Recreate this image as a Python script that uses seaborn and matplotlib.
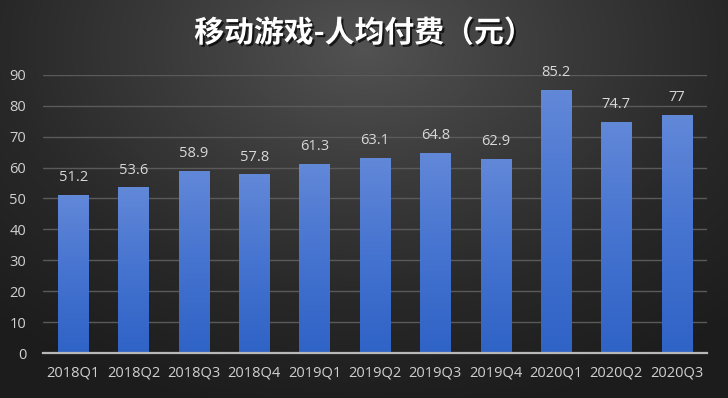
import numpy as np
import pandas as pd
import seaborn as sns
import matplotlib.pyplot as plt
import matplotlib.patheffects as pe
from matplotlib.colors import LinearSegmentedColormap

quarters = ['2018Q1', '2018Q2', '2018Q3', '2018Q4', '2019Q1', '2019Q2',
            '2019Q3', '2019Q4', '2020Q1', '2020Q2', '2020Q3']
pay_per_user = [51.2, 53.6, 58.9, 57.8, 61.3, 63.1, 64.8, 62.9, 85.2, 74.7, 77]
title = '移动游戏-人均付费（元）'

sns.set_theme(style='dark')
plt.rcParams['font.family'] = ['Open Sans', 'Noto Sans CJK SC', 'DejaVu Sans']

fig = plt.figure(figsize=(7.28, 3.98), dpi=100)

# radial dark background
bg = fig.add_axes([0, 0, 1, 1], zorder=-10)
yy, xx = np.mgrid[0:1:398j, 0:1:728j]
r = np.sqrt(((xx - 0.5) / 0.75) ** 2 + ((yy - 0.12) / 0.95) ** 2)
bg_cmap = LinearSegmentedColormap.from_list('bg', ['#525252', '#3c3c3c', '#282828', '#1c1c1c'])
bg.imshow(r, cmap=bg_cmap, aspect='auto', extent=[0, 1, 1, 0], vmin=0, vmax=1.0)
bg.set_axis_off()

ax = fig.add_axes([0.059, 0.113, 0.912, 0.699])
ax.patch.set_alpha(0)
df = pd.DataFrame({'quarter': quarters, 'value': pay_per_user})
sns.barplot(data=df, x='quarter', y='value', ax=ax, color='#3a68c8',
            width=0.5, saturation=1, linewidth=0, edgecolor='none', zorder=3)

# vertical gradient on each bar
bar_cmap = LinearSegmentedColormap.from_list('bar', ['#2f63c6', '#4573d0', '#6288d8'])
grad = np.linspace(0, 1, 256).reshape(-1, 1)
for patch in ax.patches:
    x0, y0 = patch.get_x(), patch.get_y()
    w, h = patch.get_width(), patch.get_height()
    im = ax.imshow(grad, cmap=bar_cmap, aspect='auto', origin='lower',
                   extent=[x0, x0 + w, y0, y0 + h], zorder=4)
    im.set_clip_path(patch)

ax.set_xlim(-0.5, len(quarters) - 0.5)
ax.set_ylim(0, 90)
ax.set_yticks(range(0, 91, 10))
ax.grid(axis='y', color='#5a5a5a', linewidth=1, zorder=0)
ax.grid(axis='x', visible=False)
for s in ['top', 'right', 'left']:
    ax.spines[s].set_visible(False)
ax.spines['bottom'].set_color('#b8b8b8')
ax.spines['bottom'].set_linewidth(1.6)
ax.spines['bottom'].set_zorder(6)

ax.tick_params(axis='both', colors='#d0d0d0', labelsize=10.5, length=0)
ax.tick_params(axis='y', pad=12)
ax.tick_params(axis='x', pad=9)
ax.set_xlabel('')
ax.set_ylabel('')

for i, v in enumerate(pay_per_user):
    ax.annotate(f'{v:g}', (i, v), xytext=(0, 7), textcoords='offset points',
                ha='center', va='bottom', color='#d8d8d8', fontsize=10.5,
                annotation_clip=False, zorder=7)

fig.text(0.5, 0.917, title, ha='center', va='center', color='white',
         fontsize=21.5, fontweight='semibold',
         family=['Noto Sans CJK SC', 'DejaVu Sans'],
         path_effects=[pe.withSimplePatchShadow(offset=(1.5, -1.5), shadow_rgbFace='black', alpha=0.7)])

fig.savefig('out.png', dpi=100)
